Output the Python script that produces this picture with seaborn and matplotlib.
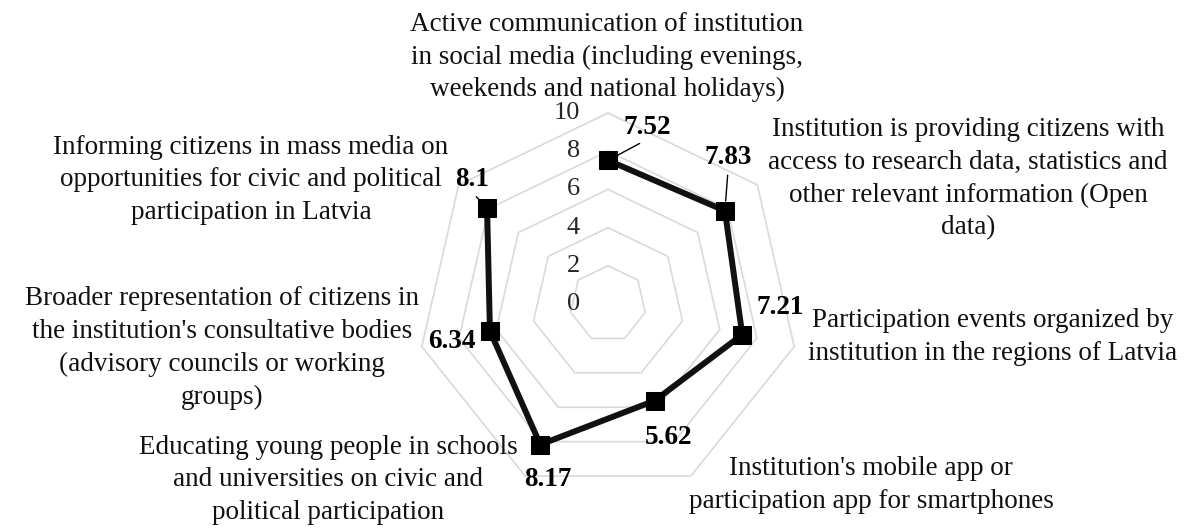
import numpy as np
import pandas as pd
import seaborn as sns
import matplotlib
matplotlib.use("Agg")
import matplotlib.pyplot as plt

categories = [
    "Active communication of institution\nin social media (including evenings,\nweekends and national holidays)",
    "Institution is providing citizens with\naccess to research data, statistics and\nother relevant information (Open\ndata)",
    "Participation events organized by\ninstitution in the regions of Latvia",
    "Institution's mobile app or\nparticipation app for smartphones",
    "Educating young people in schools\nand universities on civic and\npolitical participation",
    "Broader representation of citizens in\nthe institution's consultative bodies\n(advisory councils or working\ngroups)",
    "Informing citizens in mass media on\nopportunities for civic and political\nparticipation in Latvia",
]
values = [7.52, 7.83, 7.21, 5.62, 8.17, 6.34, 8.1]
value_labels = ["7.52", "7.83", "7.21", "5.62", "8.17", "6.34", "8.1"]
r_ticks = [0, 2, 4, 6, 8, 10]

W, H = 1186, 529

sns.set_style("white")
plt.rcParams["font.family"] = ["Liberation Serif", "DejaVu Serif"]


def px(x, y):
    # pixel coords measured from top-left -> figure fraction
    return x / W, 1 - y / H


fig = plt.figure(figsize=(W / 100, H / 100), dpi=100)
cx, cy, rad = 608, 304, 191
ax = fig.add_axes([(cx - rad) / W, (H - cy - rad) / H, 2 * rad / W, 2 * rad / H], projection="polar")
ax.set_theta_zero_location("N")
ax.set_theta_direction(-1)

n = len(values)
angles = np.linspace(0, 2 * np.pi, n, endpoint=False)
closed_angles = np.append(angles, angles[0])

# heptagon grid rings
for t in r_ticks[1:]:
    ax.plot(closed_angles, [t] * (n + 1), color="#d9d9d9", lw=1.2, zorder=1, clip_on=False)

df = pd.DataFrame({"angle": closed_angles, "score": values + values[:1]})
sns.lineplot(data=df, x="angle", y="score", ax=ax, sort=False, color="#111111", lw=4.3,
             marker="s", markersize=13.5, markeredgecolor="black", markerfacecolor="black",
             zorder=3, clip_on=False)

ax.set_ylim(0, 10)
ax.set_xticks([])
ax.set_yticks([])
ax.grid(False)
ax.spines["polar"].set_visible(False)
ax.set_facecolor("none")
ax.set_xlabel("")
ax.set_ylabel("")

# radial tick labels along the top axis
for t in r_ticks:
    ax.annotate(str(t), xy=(0, t), xytext=(-28, 0), textcoords="offset pixels",
                ha="right", va="center", fontsize=19, color="#262626")

# category labels (centre positions in pixels)
cat_pos = [(607, 57), (968, 179), (993, 337), (871, 485), (328, 480), (222, 348), (251, 180)]
for lab, (x, y) in zip(categories, cat_pos):
    fig.text(*px(x, y), lab, ha="center", va="center", multialignment="center",
             fontsize=19.5, color="#111111", linespacing=1.4)

# data labels
lab_pos = [(647, 127), (728, 158), (780, 308), (669, 438), (548, 480), (452, 342), (472, 180)]
leaders = [True, True, False, False, False, False, True]
for ang, v, txt, (x, y), lead in zip(angles, values, value_labels, lab_pos, leaders):
    arrow = None
    if lead:
        arrow = dict(arrowstyle="-", color="black", lw=1.0, relpos=(0.5, 0.0),
                     shrinkA=1, shrinkB=7)
    ax.annotate(txt, xy=(ang, v), xytext=px(x, y), textcoords="figure fraction",
                ha="center", va="center", fontsize=19.5, fontweight="bold",
                color="black", arrowprops=arrow, annotation_clip=False)

fig.savefig("out.png", dpi=100)
